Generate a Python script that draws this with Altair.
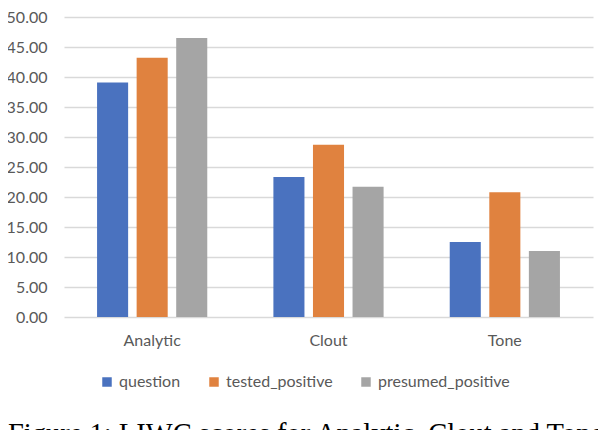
import altair as alt
import pandas as pd

categories = ["Analytic", "Clout", "Tone"]
series = ["question", "tested_positive", "presumed_positive"]
question = [39.1, 23.35, 12.5]
tested_positive = [43.2, 28.7, 20.8]
presumed_positive = [46.5, 21.7, 11.0]
colors = ["#4A72BF", "#E0823F", "#A5A5A5"]
caption = "Figure 1: LIWC scores for Analytic, Clout and Tone"

rows = []
for name, vals in zip(series, [question, tested_positive, presumed_positive]):
    for cat, v in zip(categories, vals):
        rows.append({"category": cat, "series": name, "value": v})
df = pd.DataFrame(rows)

txt = "#595959"
font = "Lato"

bars = alt.Chart(df).mark_bar().encode(
    x=alt.X("category:N", sort=categories, title=None,
            scale=alt.Scale(paddingInner=0.375, paddingOuter=0.1875),
            axis=alt.Axis(labelAngle=0, domain=False, ticks=False, labelPadding=15,
                          labelFont=font, labelFontSize=16, labelColor=txt)),
    xOffset=alt.XOffset("series:N", sort=series,
                        scale=alt.Scale(paddingInner=0.215, paddingOuter=0)),
    y=alt.Y("value:Q", title=None,
            scale=alt.Scale(domain=[0, 50], nice=False),
            axis=alt.Axis(values=[0, 5, 10, 15, 20, 25, 30, 35, 40, 45, 50], format=".2f",
                          domain=False, ticks=False, labelPadding=17,
                          labelFont=font, labelFontSize=16, labelColor=txt,
                          gridColor="#D9D9D9", gridWidth=1.5)),
    color=alt.Color("series:N", sort=series,
                    scale=alt.Scale(domain=series, range=colors),
                    legend=alt.Legend(title=None, orient="none", direction="horizontal",
                                      legendX=35, legendY=357, padding=0,
                                      symbolType="square", symbolSize=90, symbolStrokeWidth=0,
                                      labelFont=font, labelFontSize=16, labelColor=txt,
                                      labelOffset=4, columnPadding=25)),
)

cap = alt.Chart(pd.DataFrame({"t": [caption]})).mark_text(
    align="left", baseline="alphabetic", font="Liberation Serif", fontSize=28.5, color="black"
).encode(text="t:N", x=alt.value(-56), y=alt.value(426))

chart = alt.layer(bars, cap).properties(
    width=529, height=300,
    autosize=alt.AutoSizeParams(type="none"),
    padding={"left": 56, "top": 9, "right": 5, "bottom": 135},
).configure_view(stroke=None)

chart.save("out.html", embed_options={"renderer": "svg", "actions": False})
